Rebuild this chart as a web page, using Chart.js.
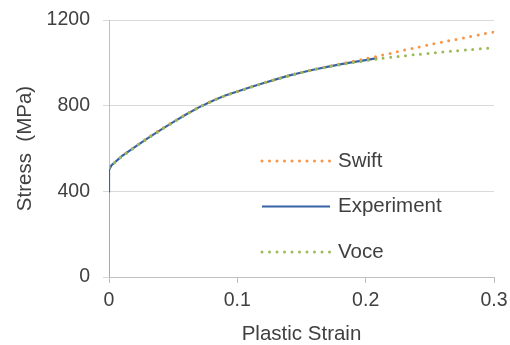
<!DOCTYPE html>
<html>
<head>
<meta charset="utf-8">
<script src="https://cdn.jsdelivr.net/npm/chart.js@4"></script>
<style>
html, body { margin: 0; padding: 0; background: #fff; }
</style>
</head>
<body>
<canvas id="chart" width="510" height="345"></canvas>
<script>
// Experiment curve
const expStrain = [0, 0, 0, 0.002, 0.01, 0.02, 0.03, 0.04, 0.05, 0.06, 0.07, 0.08, 0.09, 0.10,
    0.11, 0.12, 0.13, 0.14, 0.15, 0.16, 0.17, 0.18, 0.19, 0.20, 0.209];
const expStress = [0, 395, 500, 522, 564, 606, 647, 686, 723, 759, 792, 821, 846, 866,
    886, 905, 923, 940, 955, 969, 981, 993, 1003, 1013, 1022];

// Model curves share one strain list
const modelStrain = [0, 0.01, 0.02, 0.03, 0.04, 0.05, 0.06, 0.07, 0.08, 0.09, 0.10,
    0.11, 0.12, 0.13, 0.14, 0.15, 0.16, 0.17, 0.18, 0.19, 0.20,
    0.21, 0.22, 0.23, 0.24, 0.25, 0.26, 0.27, 0.28, 0.29, 0.30];
const swiftStress = [512, 564, 608, 649, 688, 725, 760, 793, 822, 846, 866,
    886, 905, 923, 940, 956, 970, 983, 995, 1007, 1019,
    1032, 1045, 1059, 1072, 1085, 1097, 1109, 1121, 1133, 1144];
const voceStress = [510, 562, 605, 646, 685, 722, 758, 791, 820, 845, 865,
    885, 904, 922, 939, 954, 968, 980, 991, 1001, 1010,
    1019, 1026, 1033, 1039, 1045, 1051, 1056, 1061, 1066, 1071];

const xTicks = [0, 0.1, 0.2, 0.3];
const yTicks = [0, 400, 800, 1200];
const legendOrder = ["Swift", "Experiment", "Voce"];

const textColor = "#404040";
const fontFamily = "'Liberation Sans', Arial, sans-serif";

function toPoints(xs, ys)
{
    return xs.map((x, i) => ({ x: x, y: ys[i] }));
}

// legend drawn inside the plot area, stacked vertically
const insideLegend = {
    id: "insideLegend",
    afterDraw(chart)
    {
        const ctx = chart.ctx;
        const area = chart.chartArea;

        legendOrder.forEach((label, i) =>
        {
            const ds = chart.data.datasets.find(d => d.label === label);
            const y = area.top + 141 + i * 45.5;

            ctx.save();
            ctx.strokeStyle = ds.borderColor;
            ctx.lineWidth = ds.borderWidth;
            ctx.lineCap = ds.borderCapStyle || "butt";
            ctx.setLineDash(ds.borderDash || []);
            ctx.beginPath();
            ctx.moveTo(area.left + 153, y);
            ctx.lineTo(area.left + 221, y);
            ctx.stroke();

            ctx.setLineDash([]);
            ctx.fillStyle = textColor;
            ctx.font = "20.5px " + fontFamily;
            ctx.textBaseline = "middle";
            ctx.textAlign = "left";
            ctx.fillText(label, area.left + 229, y);
            ctx.restore();
        });
    }
};

const ctx = document.getElementById("chart");

new Chart(ctx, {
    type: "line",
    data: {
        datasets: [
            {
                label: "Voce",
                data: toPoints(modelStrain, voceStress),
                borderColor: "#9bbb59",
                borderWidth: 3,
                borderDash: [0, 7.5],
                borderCapStyle: "round",
                pointRadius: 0,
                tension: 0.3,
                fill: false
            },
            {
                label: "Swift",
                data: toPoints(modelStrain, swiftStress),
                borderColor: "#f79646",
                borderWidth: 3,
                borderDash: [0, 7.5],
                borderCapStyle: "round",
                pointRadius: 0,
                tension: 0.3,
                fill: false
            },
            {
                label: "Experiment",
                data: toPoints(expStrain, expStress),
                borderColor: "#3763a5",
                borderWidth: 2.2,
                pointRadius: 0,
                tension: 0,
                fill: false,
                segment: {
                    // elastic part is drawn as a thin, lighter line
                    borderWidth: c => c.p1DataIndex === 1 ? 1.2 : undefined,
                    borderColor: c => c.p1DataIndex === 1 ? "#7f9fcc" : undefined
                }
            }
        ]
    },
    options: {
        responsive: false,
        animation: false,
        layout: { padding: { left: 0, right: 16, top: 20, bottom: 0 } },
        plugins: {
            legend: { display: false },
            tooltip: { enabled: false }
        },
        scales: {
            x: {
                type: "linear",
                min: 0,
                max: 0.3,
                afterBuildTicks: scale => { scale.ticks = xTicks.map(v => ({ value: v })); },
                afterFit: scale =>
                {
                    scale.height = 68;
                    scale.paddingLeft = 0;
                    scale.paddingRight = 0;
                },
                ticks: {
                    color: textColor,
                    font: { size: 19.5, family: fontFamily },
                    padding: 6,
                    maxRotation: 0,
                    callback: v => String(v)
                },
                grid: {
                    drawOnChartArea: false,
                    tickColor: "#bfbfbf",
                    tickLength: 6
                },
                border: { color: "#bfbfbf", width: 1 },
                title: {
                    display: true,
                    text: "Plastic Strain",
                    color: textColor,
                    font: { size: 20.5, family: fontFamily },
                    padding: { top: 0, bottom: -2 }
                }
            },
            y: {
                min: 0,
                max: 1200,
                afterBuildTicks: scale => { scale.ticks = yTicks.map(v => ({ value: v })); },
                afterFit: scale =>
                {
                    scale.width = 109;
                    scale.paddingTop = 0;
                    scale.paddingBottom = 0;
                },
                ticks: {
                    color: textColor,
                    font: { size: 19.5, family: fontFamily },
                    padding: 13,
                    callback: v => String(v)
                },
                grid: {
                    color: "#d9d9d9",
                    tickColor: "#d9d9d9",
                    tickLength: 6
                },
                border: { color: "#bfbfbf", width: 1 },
                title: {
                    display: true,
                    text: "Stress  (MPa)",
                    color: textColor,
                    font: { size: 20.5, family: fontFamily },
                    padding: { top: 13, bottom: 0 }
                }
            }
        }
    },
    plugins: [insideLegend]
});
</script>
</body>
</html>
